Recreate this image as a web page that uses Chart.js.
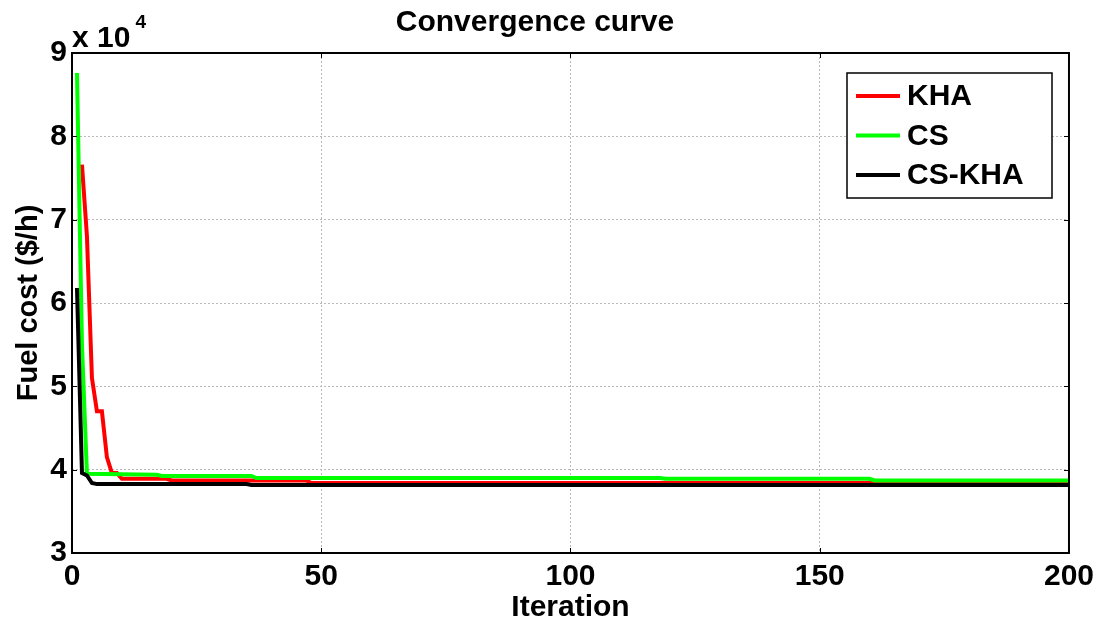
<!DOCTYPE html>
<html>
<head>
<meta charset="utf-8">
<script src="https://cdn.jsdelivr.net/npm/chart.js@4"></script>
<style>
html, body { margin: 0; padding: 0; background: #fff; }
</style>
</head>
<body>
<canvas id="chart" width="1100" height="623"></canvas>
<script>
// series: vertices of each convergence polyline
var seriesNames  = ['KHA', 'CS', 'CS-KHA'];
var seriesColors = ['#ff0000', '#00ff00', '#000000'];

var khaIter   = [2, 3, 4, 5, 6, 7, 8, 9, 10, 19, 20, 47, 48, 200];
var khaCost   = [76600, 68000, 51000, 47000, 47000, 41500, 39600, 39600, 38900, 38900, 38700, 38700, 38400, 38400];
var csIter    = [1, 2, 3, 17, 18, 36, 37, 118, 119, 160, 161, 200];
var csCost    = [87600, 55000, 39500, 39400, 39250, 39250, 39000, 39000, 38900, 38900, 38700, 38700];
var cskhaIter = [1, 2, 3, 4, 5, 35, 36, 200];
var cskhaCost = [61800, 39600, 39300, 38400, 38270, 38270, 38150, 38150];

var xTicks = [0, 50, 100, 150, 200];
var yTicks = [30000, 40000, 50000, 60000, 70000, 80000, 90000];

var FONT = "'Liberation Sans', Arial, sans-serif";

function toPoints(iters, costs) {
    return iters.map(function(it, i) { return {x: it, y: costs[i]}; });
}

var seriesIters = [khaIter, csIter, cskhaIter];
var seriesCosts = [khaCost, csCost, cskhaCost];

var datasets = seriesNames.map(function(name, i) {
    return {
        label: name,
        data: toPoints(seriesIters[i], seriesCosts[i]),
        borderColor: seriesColors[i],
        backgroundColor: seriesColors[i],
        borderWidth: 4,
        pointRadius: 0,
        tension: 0,
        fill: false,
        order: 3 - i
    };
});

// box, inner tick marks, exponent label and legend, matlab style
var matlabFrame = {
    id: 'matlabFrame',
    afterDraw: function(chart) {
        var ctx = chart.ctx;
        var a = chart.chartArea;
        var xs = chart.scales.x, ys = chart.scales.y;
        ctx.save();

        ctx.strokeStyle = '#000';
        ctx.lineWidth = 1;
        ctx.beginPath();
        xTicks.forEach(function(v) {
            var px = Math.round(xs.getPixelForValue(v)) + 0.5;
            ctx.moveTo(px, a.bottom); ctx.lineTo(px, a.bottom - 5);
            ctx.moveTo(px, a.top);    ctx.lineTo(px, a.top + 5);
        });
        yTicks.forEach(function(v) {
            var py = Math.round(ys.getPixelForValue(v)) + 0.5;
            ctx.moveTo(a.left, py);  ctx.lineTo(a.left + 5, py);
            ctx.moveTo(a.right, py); ctx.lineTo(a.right - 5, py);
        });
        ctx.stroke();

        ctx.lineWidth = 2;
        ctx.strokeRect(a.left, a.top, a.right - a.left, a.bottom - a.top);

        // x 10^4
        ctx.fillStyle = '#000';
        ctx.textBaseline = 'alphabetic';
        ctx.textAlign = 'left';
        ctx.font = 'bold 30px ' + FONT;
        ctx.fillText('x 10', a.left, a.top - 6);
        var w = ctx.measureText('x 10').width;
        ctx.font = 'bold 19px ' + FONT;
        ctx.fillText('4', a.left + w + 5, a.top - 25);

        // legend
        var lx = 847, ly = 73, lw = 205, lh = 125;
        ctx.fillStyle = '#fff';
        ctx.fillRect(lx, ly, lw, lh);
        ctx.lineWidth = 1.5;
        ctx.strokeStyle = '#000';
        ctx.strokeRect(lx, ly, lw, lh);
        ctx.font = 'bold 30px ' + FONT;
        ctx.textBaseline = 'middle';
        chart.data.datasets.forEach(function(ds, i) {
            var ry = ly + 23 + i * 39.5;
            ctx.strokeStyle = ds.borderColor;
            ctx.lineWidth = 4;
            ctx.beginPath();
            ctx.moveTo(lx + 9, ry);
            ctx.lineTo(lx + 53, ry);
            ctx.stroke();
            ctx.fillStyle = '#000';
            ctx.fillText(ds.label, lx + 60, ry + 1);
        });
        ctx.restore();
    }
};

new Chart(document.getElementById('chart'), {
    type: 'line',
    data: { datasets: datasets },
    options: {
        responsive: false,
        animation: false,
        devicePixelRatio: 1,
        layout: { padding: { top: 0, right: 30, bottom: 0, left: 0 } },
        plugins: {
            legend: { display: false },
            tooltip: { enabled: false },
            title: {
                display: true,
                text: 'Convergence curve',
                color: '#000',
                font: { family: FONT, size: 30, weight: 'bold' },
                padding: { top: 5, bottom: 12 }
            }
        },
        scales: {
            x: {
                type: 'linear',
                min: 0,
                max: 200,
                afterBuildTicks: function(scale) {
                    scale.ticks = xTicks.map(function(v) { return {value: v}; });
                },
                afterFit: function(scale) { scale.height = 70; },
                ticks: {
                    color: '#000',
                    padding: 6,
                    font: { family: FONT, size: 30, weight: 'bold' }
                },
                grid: { color: '#b8b8b8', lineWidth: 1, drawTicks: false },
                border: { display: false, dash: [2, 2] },
                title: {
                    display: true,
                    text: 'Iteration',
                    color: '#000',
                    font: { family: FONT, size: 30, weight: 'bold', lineHeight: 1 },
                    padding: { top: 0, bottom: 0 }
                }
            },
            y: {
                type: 'linear',
                min: 30000,
                max: 90000,
                afterBuildTicks: function(scale) {
                    scale.ticks = yTicks.map(function(v) { return {value: v}; });
                },
                afterFit: function(scale) { scale.width = 72; },
                ticks: {
                    color: '#000',
                    padding: 5,
                    font: { family: FONT, size: 30, weight: 'bold' },
                    callback: function(v) { return v / 10000; }
                },
                grid: { color: '#b8b8b8', lineWidth: 1, drawTicks: false },
                border: { display: false, dash: [2, 2] },
                title: {
                    display: true,
                    text: 'Fuel cost ($/h)',
                    color: '#000',
                    font: { family: FONT, size: 29, weight: 'bold' },
                    padding: { top: 12, bottom: 0 }
                }
            }
        }
    },
    plugins: [matlabFrame]
});
</script>
</body>
</html>
